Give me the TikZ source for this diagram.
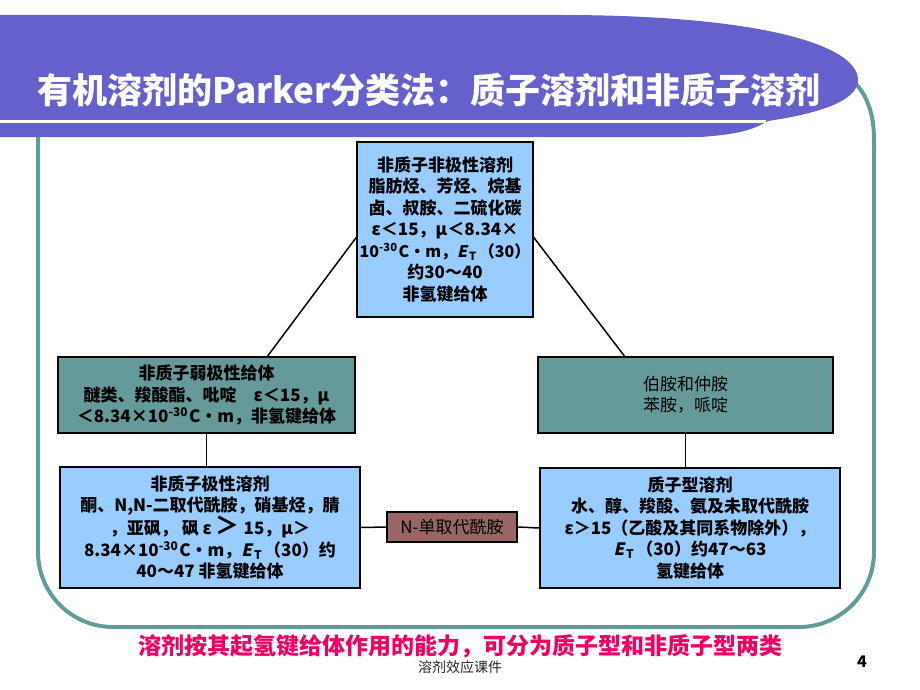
\documentclass[tikz,border=0pt]{standalone}
\usepackage{fontspec}
\setmainfont{Noto Sans CJK SC}
\newfontfamily\slantfont{Noto Sans CJK SC}[FakeSlant=0.22]
\newcommand{\ET}{{\slantfont\bfseries E}\kern2pt\textsubscript{T}\kern2pt}
\usetikzlibrary{positioning,calc}
\definecolor{skyfill}{RGB}{153,204,255}
\definecolor{tealfill}{RGB}{102,153,153}
\definecolor{rosefill}{RGB}{153,102,102}
\definecolor{framegreen}{RGB}{95,158,150}
\definecolor{bannerblue}{RGB}{102,96,204}
\definecolor{notered}{RGB}{240,0,100}
\tikzset
{
    solventbox/.style = {rectangle, draw=black, line width=1.6pt, fill=skyfill, align=center, inner sep=0pt, font=\fontsize{17}{21.5}\selectfont\bfseries},
    donorbox/.style   = {solventbox, fill=tealfill},
    amidebox/.style   = {rectangle, draw=black, line width=1.6pt, fill=rosefill, align=center, inner sep=0pt, font=\fontsize{17}{20}\selectfont},
    link/.style       = {draw=black, line width=1.5pt}
}

\begin{document}
\begin{tikzpicture}[x=1pt, y=-1pt]
\useasboundingbox (0,0) rectangle (920,690);
% frame and title banner
\draw[framegreen, line width=4pt, rounded corners=75pt] (38,130) -- (38,627) -- (874,627) -- (874,146);
\draw[framegreen, line width=4pt] (874,148) -- (874,140) .. controls (874,115) and (868,95) .. (852,80);
\fill[bannerblue] (0,15) -- (560,15) .. controls (760,15) and (858,45) .. (858,80) .. controls (858,102) and (815,114) .. (768,121) .. controls (755,128) and (745,134) .. (700,137) -- (0,137) -- cycle;
\draw[white, line width=3pt] (0,122) -- (766,122);
\node[font=\fontsize{35}{35}\selectfont\bfseries, text=white] (title) at (429,90) {有机溶剂的Parker分类法：质子溶剂和非质子溶剂};

% solvent classes
\node[solventbox, minimum width=176pt, minimum height=175pt] (aprotic) at (445,229.5)
{非质子非极性溶剂\\脂肪烃、芳烃、烷基\\卤、叔胺、二硫化碳\\ε＜15，μ＜8.34×\\{\fontsize{16}{21.5}\selectfont 10\textsuperscript{-30}\kern1pt C·m，\ET（30）}\\约30～40\\非氢键给体};
\node[donorbox, minimum width=297pt, minimum height=76pt] (weakdonor) at (206.5,395)
{非质子弱极性给体\\醚类、羧酸酯、吡啶\quad ε＜15，μ\\＜8.34×10\textsuperscript{-30}\kern1pt C・m，非氢键给体};
\node[donorbox, font=\fontsize{17}{21.5}\selectfont, minimum width=295pt, minimum height=76pt] (amine) at (685.5,395)
{伯胺和仲胺\\苯胺，哌啶};
\node[solventbox, minimum width=300pt, minimum height=121pt] (polar) at (210,527.5)
{非质子极性溶剂\\酮、N,N-二取代酰胺，硝基烃，腈\\，亚砜，\ 砜\ ε\ {\fontsize{24}{21.5}\selectfont ＞}\ 15，μ＞\\8.34×10\textsuperscript{-30}\kern1pt C・m，\ET（30）约\\40～47 非氢键给体};
\node[solventbox, minimum width=300pt, minimum height=120pt] (protic) at (690,528)
{质子型溶剂\\水、醇、羧酸、氨及未取代酰胺\\ε＞15（乙酸及其同系物除外），\\\ET（30）约47～63\\氢键给体};
\node[amidebox, minimum width=130pt, minimum height=30pt] (amide) at (452,527) {N-单取代酰胺};

% connectors
\draw[link] ($(aprotic.west)+(0,8)$) -- ($(weakdonor.north)+(61,0)$);
\draw[link] ($(aprotic.east)+(0,8)$) -- ($(amine.north)+(-61,0)$);
\draw[link] (weakdonor.south) -- (weakdonor.south |- polar.north);
\draw[link] (amine.south) -- (amine.south |- protic.north);
\draw[link] (polar.east) -- (amide.west);
\draw[link] (amide.east) -- (protic.west);

% footer
\node[font=\fontsize{23}{23}\selectfont\bfseries, text=notered] (summary) at (460,646) {溶剂按其起氢键给体作用的能力，可分为质子型和非质子型两类};
\node[font=\fontsize{14}{14}\selectfont, text=black!85] (course) at (460,667) {溶剂效应课件};
\node[font=\fontsize{16}{16}\selectfont\bfseries] (page) at (862,662) {4};
\end{tikzpicture}
\end{document}
